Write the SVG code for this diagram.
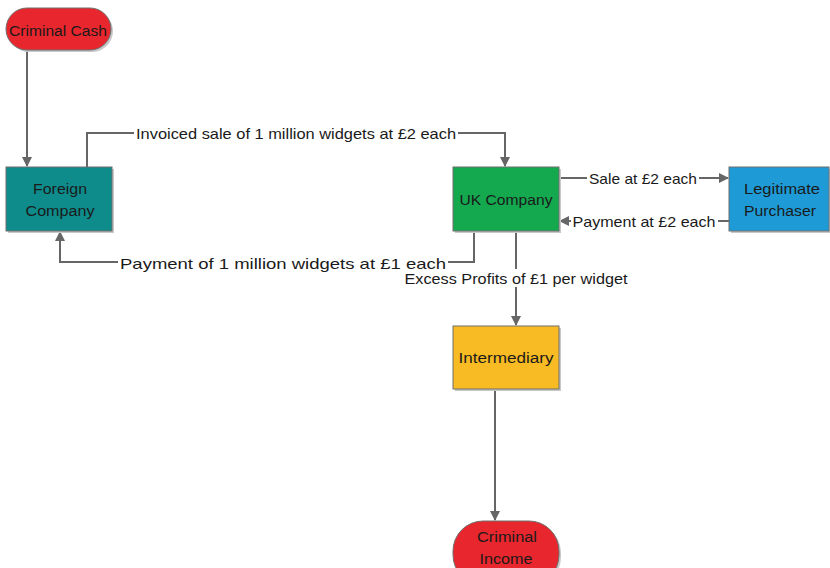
<svg xmlns="http://www.w3.org/2000/svg" width="830" height="568" viewBox="0 0 830 568">
<style>
.shadow{fill:#c8c8c8}
.box{stroke:#6f6f6f;stroke-width:1}
.t{font-family:"Liberation Sans",Arial,sans-serif;font-size:15.5px;fill:#1a1a1a;text-anchor:middle}
.lbl{font-family:"Liberation Sans",Arial,sans-serif;font-size:15px;fill:#1a1a1a;text-anchor:middle}
.bg{fill:#ffffff}
.c{fill:none;stroke:#666666;stroke-width:2}
</style>
<defs>
<marker id="ah" viewBox="0 0 10 10" refX="9" refY="5" markerWidth="5" markerHeight="5" orient="auto" markerUnits="strokeWidth">
<path d="M0,0 L10,5 L0,10 z" fill="#666666"/>
</marker>
</defs>
<rect width="830" height="568" fill="#ffffff"/>
<g id="connectors">
<path class="c" d="M27,50 V166" marker-end="url(#ah)"/>
<path class="c" d="M87,167 V133 H505 V166" marker-end="url(#ah)"/>
<rect class="bg" x="134" y="124" width="324" height="18"/>
<text class="lbl" x="296" y="138.5" textLength="320" lengthAdjust="spacingAndGlyphs">Invoiced sale of 1 million widgets at £2 each</text>
<path class="c" d="M559,178 H728" marker-end="url(#ah)"/>
<rect class="bg" x="587" y="169" width="112" height="18"/>
<text class="lbl" x="643" y="183.5" textLength="108" lengthAdjust="spacingAndGlyphs">Sale at £2 each</text>
<path class="c" d="M729,221 H560" marker-end="url(#ah)"/>
<rect class="bg" x="571" y="212" width="147" height="18"/>
<text class="lbl" x="644" y="226.5" textLength="143" lengthAdjust="spacingAndGlyphs">Payment at £2 each</text>
<path class="c" d="M474,231 V262 H60 V232" marker-end="url(#ah)"/>
<rect class="bg" x="118" y="254" width="330" height="18"/>
<text class="lbl" x="283" y="268.5" textLength="326" lengthAdjust="spacingAndGlyphs">Payment of 1 million widgets at £1 each</text>
<path class="c" d="M516,231 V325" marker-end="url(#ah)"/>
<rect class="bg" x="403" y="269" width="227" height="18"/>
<text class="lbl" x="516" y="283.5" textLength="223" lengthAdjust="spacingAndGlyphs">Excess Profits of £1 per widget</text>
<path class="c" d="M495,389 V520" marker-end="url(#ah)"/>
</g>
<g id="criminal-cash">
<rect class="shadow" x="8" y="10" width="105" height="42" rx="21"/>
<rect class="box" x="6" y="8" width="105" height="42" rx="21" fill="#e8262d"/>
<text class="t" x="58" y="35.5" textLength="98" lengthAdjust="spacingAndGlyphs">Criminal Cash</text>
</g>
<g id="foreign-company">
<rect class="shadow" x="8" y="169" width="106" height="64"/>
<rect class="box" x="6" y="167" width="106" height="64" fill="#0e8c8c"/>
<text class="t" x="60" y="193.5" textLength="54" lengthAdjust="spacingAndGlyphs">Foreign</text>
<text class="t" x="60" y="215.5" textLength="69" lengthAdjust="spacingAndGlyphs">Company</text>
</g>
<g id="uk-company">
<rect class="shadow" x="455" y="169" width="106" height="64"/>
<rect class="box" x="453" y="167" width="106" height="64" fill="#14a84f"/>
<text class="t" x="506" y="204.5" textLength="93" lengthAdjust="spacingAndGlyphs">UK Company</text>
</g>
<g id="legitimate-purchaser">
<rect class="shadow" x="731" y="169" width="101" height="64"/>
<rect class="box" x="729" y="167" width="100" height="64" fill="#1e9bd7"/>
<text class="t" x="782" y="193.5" textLength="76" lengthAdjust="spacingAndGlyphs">Legitimate</text>
<text class="t" x="780" y="215.5" textLength="72" lengthAdjust="spacingAndGlyphs">Purchaser</text>
</g>
<g id="intermediary">
<rect class="shadow" x="455" y="328" width="106" height="63"/>
<rect class="box" x="453" y="326" width="106" height="63" fill="#f8bb23"/>
<text class="t" x="506" y="362.5" textLength="95" lengthAdjust="spacingAndGlyphs">Intermediary</text>
</g>
<g id="criminal-income">
<rect class="shadow" x="455" y="523" width="106" height="64" rx="30"/>
<rect class="box" x="453" y="521" width="106" height="64" rx="30" fill="#e8262d"/>
<text class="t" x="507" y="541.5" textLength="60" lengthAdjust="spacingAndGlyphs">Criminal</text>
<text class="t" x="506" y="563.5" textLength="53" lengthAdjust="spacingAndGlyphs">Income</text>
</g>
</svg>
